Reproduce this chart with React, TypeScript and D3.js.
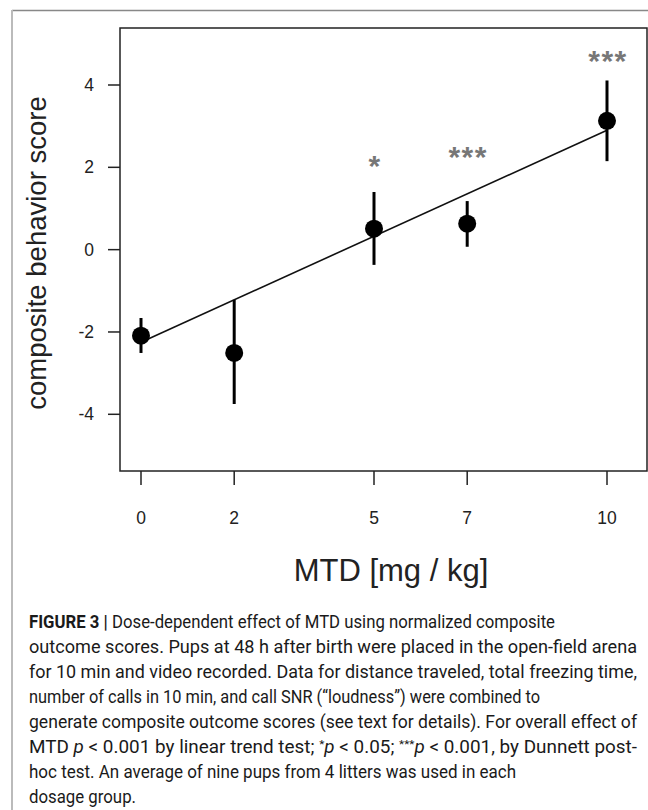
import * as React from 'react';
import * as d3 from 'd3';

// dose groups (mg / kg) and composite scores
const doses = [0, 2, 5, 7, 10];
const means = [-2.09, -2.51, 0.51, 0.63, 3.13];
const errHigh = [-1.66, -1.22, 1.4, 1.18, 4.11];
const errLow = [-2.51, -3.75, -0.37, 0.07, 2.15];

// significance marks above the groups (y in score units)
const sigLabels = ['', '', '*', '***', '***'];
const sigY = [0, 0, 2.12, 2.36, 4.69];

// fitted linear trend
const trendDose = [0, 10];
const trendScore = [-2.25, 2.9];

const yTicks = [-4, -2, 0, 2, 4];
const xTicks = [0, 2, 5, 7, 10];

const captionLines = [
  'Dose-dependent effect of MTD using normalized composite',
  'outcome scores. Pups at 48 h after birth were placed in the open-field arena',
  'for 10 min and video recorded. Data for distance traveled, total freezing time,',
  'number of calls in 10 min, and call SNR (“loudness”) were combined to',
  'generate composite outcome scores (see text for details). For overall effect of',
  '',
  'hoc test. An average of nine pups from 4 litters was used in each',
  'dosage group.'
];
const captionWidths = [526, 608, 608, 511, 608, 608, 487, 107];

const W = 648, H = 810;
const box = { left: 120, top: 28, right: 647, bottom: 471 };

const App = () => {
  const svgRef = React.useRef<SVGSVGElement>(null);

  React.useEffect(() => {
    const svg = d3.select(svgRef.current);
    svg.selectAll('*').remove();

    const x = d3.scaleLinear().domain([0, 10]).range([141, 607]);
    const y = d3.scaleLinear().domain([-4, 4]).range([414.3, 85]);

    // figure frame
    svg.append('line').attr('x1', 12).attr('x2', W).attr('y1', 10.5).attr('y2', 10.5)
      .attr('stroke', '#888').attr('stroke-width', 1.5);
    svg.append('line').attr('x1', 12).attr('x2', 12).attr('y1', 10).attr('y2', H)
      .attr('stroke', '#bbb').attr('stroke-width', 2);

    // plot box
    svg.append('rect')
      .attr('x', box.left).attr('y', box.top)
      .attr('width', box.right - box.left).attr('height', box.bottom - box.top)
      .attr('fill', 'none').attr('stroke', '#222').attr('stroke-width', 1.5);

    const font = '"Liberation Sans", Arial, sans-serif';

    // y axis
    const ya = svg.append('g');
    yTicks.forEach(t => {
      ya.append('line').attr('x1', box.left - 12).attr('x2', box.left)
        .attr('y1', y(t)).attr('y2', y(t)).attr('stroke', '#222').attr('stroke-width', 1.5);
      ya.append('text').attr('x', 94).attr('y', y(t) + 6)
        .attr('text-anchor', 'end').attr('font-family', font).attr('font-size', 17.5)
        .attr('fill', '#222').text(t);
    });
    svg.append('text')
      .attr('transform', `translate(46, 253) rotate(-90)`)
      .attr('text-anchor', 'middle').attr('font-family', font).attr('font-size', 27.5)
      .attr('fill', '#222').text('composite behavior score');

    // x axis
    const xa = svg.append('g');
    xTicks.forEach(t => {
      xa.append('line').attr('x1', x(t)).attr('x2', x(t))
        .attr('y1', box.bottom).attr('y2', box.bottom + 14).attr('stroke', '#222').attr('stroke-width', 1.5);
      xa.append('text').attr('x', x(t)).attr('y', 524)
        .attr('text-anchor', 'middle').attr('font-family', font).attr('font-size', 17.5)
        .attr('fill', '#222').text(t);
    });
    svg.append('text').attr('x', 391).attr('y', 581)
      .attr('text-anchor', 'middle').attr('font-family', font).attr('font-size', 31)
      .attr('fill', '#222').text('MTD [mg / kg]');

    // trend line
    const line = d3.line<number>().x(d => x(trendDose[d])).y(d => y(trendScore[d]));
    svg.append('path').attr('d', line([0, 1])).attr('fill', 'none')
      .attr('stroke', '#111').attr('stroke-width', 1.6);

    // error bars and points
    const g = svg.append('g');
    doses.forEach((d, i) => {
      g.append('line').attr('x1', x(d)).attr('x2', x(d))
        .attr('y1', y(errLow[i])).attr('y2', y(errHigh[i]))
        .attr('stroke', '#000').attr('stroke-width', 3);
      g.append('circle').attr('cx', x(d)).attr('cy', y(means[i])).attr('r', 9).attr('fill', '#000');
      if (sigLabels[i]) {
        g.append('text').attr('x', x(d) + 1).attr('y', y(sigY[i]) + 14)
          .attr('text-anchor', 'middle').attr('font-family', font).attr('font-size', 30)
          .attr('font-weight', 'bold').attr('letter-spacing', 1.5)
          .attr('fill', '#777').text(sigLabels[i]);
      }
    });

    // caption
    const cap = svg.append('g').attr('font-family', 'Roboto, "Liberation Sans", sans-serif')
      .attr('font-size', 17.5).attr('fill', '#1a1a1a');
    captionLines.forEach((txt, i) => {
      const t = cap.append('text').attr('x', 29).attr('y', 628 + i * 25)
        .attr('textLength', captionWidths[i]).attr('lengthAdjust', 'spacingAndGlyphs');
      if (i === 0) {
        t.append('tspan').attr('font-weight', 'bold').text('FIGURE 3 | ');
        t.append('tspan').text(txt);
      } else if (i === 5) {
        t.append('tspan').text('MTD ');
        t.append('tspan').attr('font-style', 'italic').text('p');
        t.append('tspan').text(' < 0.001 by linear trend test; ');
        t.append('tspan').attr('font-size', 11).attr('dy', -5).text('*');
        t.append('tspan').attr('font-style', 'italic').attr('dy', 5).text('p');
        t.append('tspan').text(' < 0.05; ');
        t.append('tspan').attr('font-size', 11).attr('dy', -5).text('***');
        t.append('tspan').attr('font-style', 'italic').attr('dy', 5).text('p');
        t.append('tspan').text(' < 0.001, by Dunnett post-');
      } else {
        t.text(txt);
      }
    });
  }, []);

  return (
    <svg ref={svgRef} width={W} height={H} style={{ position: 'absolute', left: 0, top: 0, background: '#fff' }} />
  );
};

export default App;
